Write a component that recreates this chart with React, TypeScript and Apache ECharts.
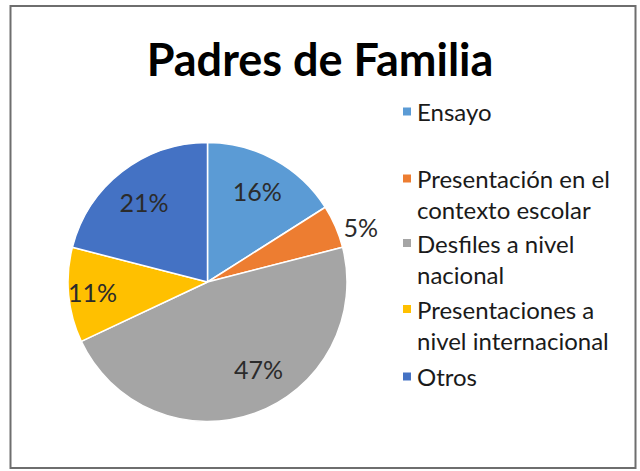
import React, { useEffect, useRef } from "react";
import * as echarts from "echarts";

const TITLE = "Padres de Familia";
const categories = [
  "Ensayo",
  "Presentación en el contexto escolar",
  "Desfiles a nivel nacional",
  "Presentaciones a nivel internacional",
  "Otros",
];
const legendLabels = [
  "Ensayo",
  "Presentación en el\ncontexto escolar",
  "Desfiles a nivel\nnacional",
  "Presentaciones a\nnivel internacional",
  "Otros",
];
const values = [16, 5, 47, 11, 21];
const colors = ["#5B9BD5", "#ED7D31", "#A5A5A5", "#FFC000", "#4472C4"];
const outsideLabel = [false, true, false, false, false];
const labelNudge = [[0, 0], [0, 0], [16, -10], [-12, 0], [0, 2]];
const legendTops = [96, 132, 196.5, 262.5, 361];

const FONT = "Lato";
const LINE_H = 31;

export default function App() {
  const ref = useRef<HTMLDivElement>(null);
  useEffect(() => {
    if (!ref.current) return;
    const chart = echarts.init(ref.current, undefined, { renderer: "svg" });
    const R = 139.5;
    const center = [207.5, 282];

    const legends = categories.map((name, i) => {
      const twoLine = legendLabels[i].includes("\n");
      return {
        data: [name],
        orient: "vertical",
        left: 401,
        top: legendTops[i],
        padding: 0,
        icon: "rect",
        itemWidth: 10,
        itemHeight: 10,
        selectedMode: false,
        formatter: () => (twoLine ? " \n" + legendLabels[i] : legendLabels[i]),
        textStyle: {
          fontFamily: FONT,
          fontSize: 24,
          color: "#1a1a1a",
          lineHeight: LINE_H,
        },
      };
    });

    chart.setOption({
      animation: false,
      backgroundColor: "#ffffff",
      title: {
        text: TITLE,
        left: "center",
        top: 36,
        padding: [0, 0, 0, 18],
        textStyle: {
          fontFamily: FONT,
          fontWeight: "bold",
          fontSize: 45,
          color: "#000000",
          lineHeight: 45,
        },
      },
      legend: legends,
      graphic: [
        {
          type: "rect",
          shape: { x: 10.5, y: 6, width: 625, height: 462 },
          style: { fill: "none", stroke: "#6e6e6e", lineWidth: 2 },
          silent: true,
          z: 100,
        },
      ],
      series: [
        {
          type: "pie",
          center,
          radius: R,
          startAngle: 90,
          clockwise: true,
          silent: true,
          label: { show: false },
          labelLine: { show: false },
          itemStyle: { borderColor: "#ffffff", borderWidth: 1.5 },
          data: categories.map((name, i) => ({
            name,
            value: values[i],
            itemStyle: { color: colors[i] },
          })),
        },
        {
          type: "pie",
          center,
          radius: [R * 0.44, R],
          startAngle: 90,
          clockwise: true,
          silent: true,
          legendHoverLink: false,
          itemStyle: { color: "rgba(0,0,0,0)", borderWidth: 0 },
          label: {
            show: true,
            position: "inside",
            formatter: "{c}%",
            fontFamily: FONT,
            fontSize: 25,
            color: "#2b2b2b",
          },
          labelLine: { show: false, length: 0, length2: 0 },
          data: categories.map((name, i) => ({
            name,
            value: values[i],
            label: outsideLabel[i]
              ? { position: "outside", distanceToLabelLine: 8 }
              : { offset: labelNudge[i] },
          })),
        },
      ],
    });
    return () => chart.dispose();
  }, []);
  return (
    <div
      ref={ref}
      style={{ position: "absolute", left: 0, top: 0, width: 640, height: 471 }}
    />
  );
}
